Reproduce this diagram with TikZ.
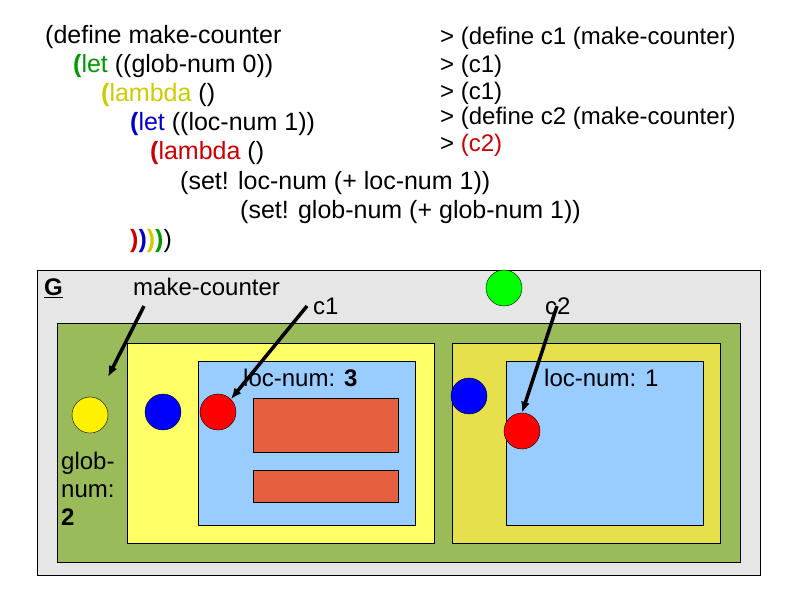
\documentclass[tikz,border=0pt]{standalone}
\usepackage{fontspec}
\setmainfont{Liberation Sans}
\definecolor{cgreen}{RGB}{0,153,0}
\definecolor{colive}{RGB}{204,204,0}
\definecolor{cblue}{RGB}{0,0,204}
\definecolor{cred}{RGB}{204,0,0}
\definecolor{bggrey}{RGB}{230,230,230}
\definecolor{envgreen}{RGB}{153,187,89}
\definecolor{envyel}{RGB}{255,255,102}
\definecolor{envyel2}{RGB}{230,224,76}
\definecolor{envblue}{RGB}{153,204,255}
\definecolor{boxor}{RGB}{230,96,64}
\tikzset{
  code/.style={anchor=west,inner sep=0pt,font=\fontsize{25}{28}\selectfont},
  rcode/.style={anchor=west,inner sep=0pt,font=\fontsize{24}{27}\selectfont},
  lbl/.style={anchor=west,inner sep=0pt,font=\fontsize{24}{28}\selectfont},
  env/.style={draw=black,line width=0.6pt},
  dot/.style={circle,draw=black,line width=0.4pt,minimum size=36pt,inner sep=0pt},
  ptr/.style={-{Latex[length=11pt,width=9pt]},line width=3.5pt}
}
\usetikzlibrary{arrows.meta}
\begin{document}
\begin{tikzpicture}[x=1pt,y=-1pt]
\useasboundingbox (0,0) rectangle (794,595);
% code
\node[code] (l1) at (45,37) {(define make-counter};
\node[code] (l2) at (73,66) {\textcolor{cgreen}{\textbf{(}let} ((glob-num 0))};
\node[code] (l3) at (101,95) {\textcolor{colive}{\textbf{(}lambda} ()};
\node[code] (l4) at (130,124) {\textcolor{cblue}{\textbf{(}let} ((loc-num 1))};
\node[code] (l5) at (150,153) {\textcolor{cred}{\textbf{(}lambda} ()};
\node[code] (l6) at (180,183) {(set! loc-num (+ loc-num 1))};
\node[code] (l7) at (240,212) {(set! glob-num (+ glob-num 1))};
\node[code] (l8) at (130,241) {\textbf{\textcolor{cred}{)}\textcolor{cblue}{)}\textcolor{colive}{)}\textcolor{cgreen}{)}})};
\node[rcode] (r1) at (440,38) {> (define c1 (make-counter)};
\node[rcode] (r2) at (440,66) {> (c1)};
\node[rcode] (r3) at (440,93) {> (c1)};
\node[rcode] (r4) at (440,118) {> (define c2 (make-counter)};
\node[rcode] (r5) at (440,145) {> \textcolor{cred}{(c2)}};
% environments
\fill[bggrey,env] (37,270) rectangle (760,575);
\fill[envgreen,env] (57,323) rectangle (740,562);
\fill[envyel,env] (127,343) rectangle (434,543);
\fill[envyel2,env] (452,343) rectangle (720,543);
\fill[envblue,env] (198,361) rectangle (415,525);
\fill[envblue,env] (506,361) rectangle (703,525);
\fill[boxor,env] (253,398) rectangle (398,452);
\fill[boxor,env] (253,470) rectangle (398,502);
% labels
\node[lbl] (G) at (44,288) {\textbf{\underline{G}}};
\node[lbl] (mc) at (133,287) {make-counter};
\node[lbl] (c1) at (313,306) {c1};
\node[lbl] (c2) at (545,306) {c2};
\node[lbl] (ln1) at (243,378) {loc-num: \textbf{3}};
\node[lbl] (ln2) at (544,378) {loc-num: 1};
\node[lbl,align=left,anchor=north west] (gn) at (61,452) {glob-\\num:\\\textbf{2}};
% dots
\node[dot,fill=yellow] (yd) at (90,415) {};
\node[dot,fill=blue] (bd1) at (163,412) {};
\node[dot,fill=red] (rd1) at (218,412) {};
\node[dot,fill=blue] (bd2) at (469,396) {};
\node[dot,fill=red] (rd2) at (522,431) {};
\node[dot,fill=green] (gd) at (504,288) {};
% pointers
\coordinate (mcs) at (144,306);
\coordinate (mce) at (108,377);
\coordinate (c1s) at (307,306);
\coordinate (c2s) at (557,306);
\draw[ptr] (mcs) -- (mce);
\draw[ptr] (c1s) -- (rd1.north east);
\draw[ptr] (c2s) -- (rd2.north);
\end{tikzpicture}
\end{document}
